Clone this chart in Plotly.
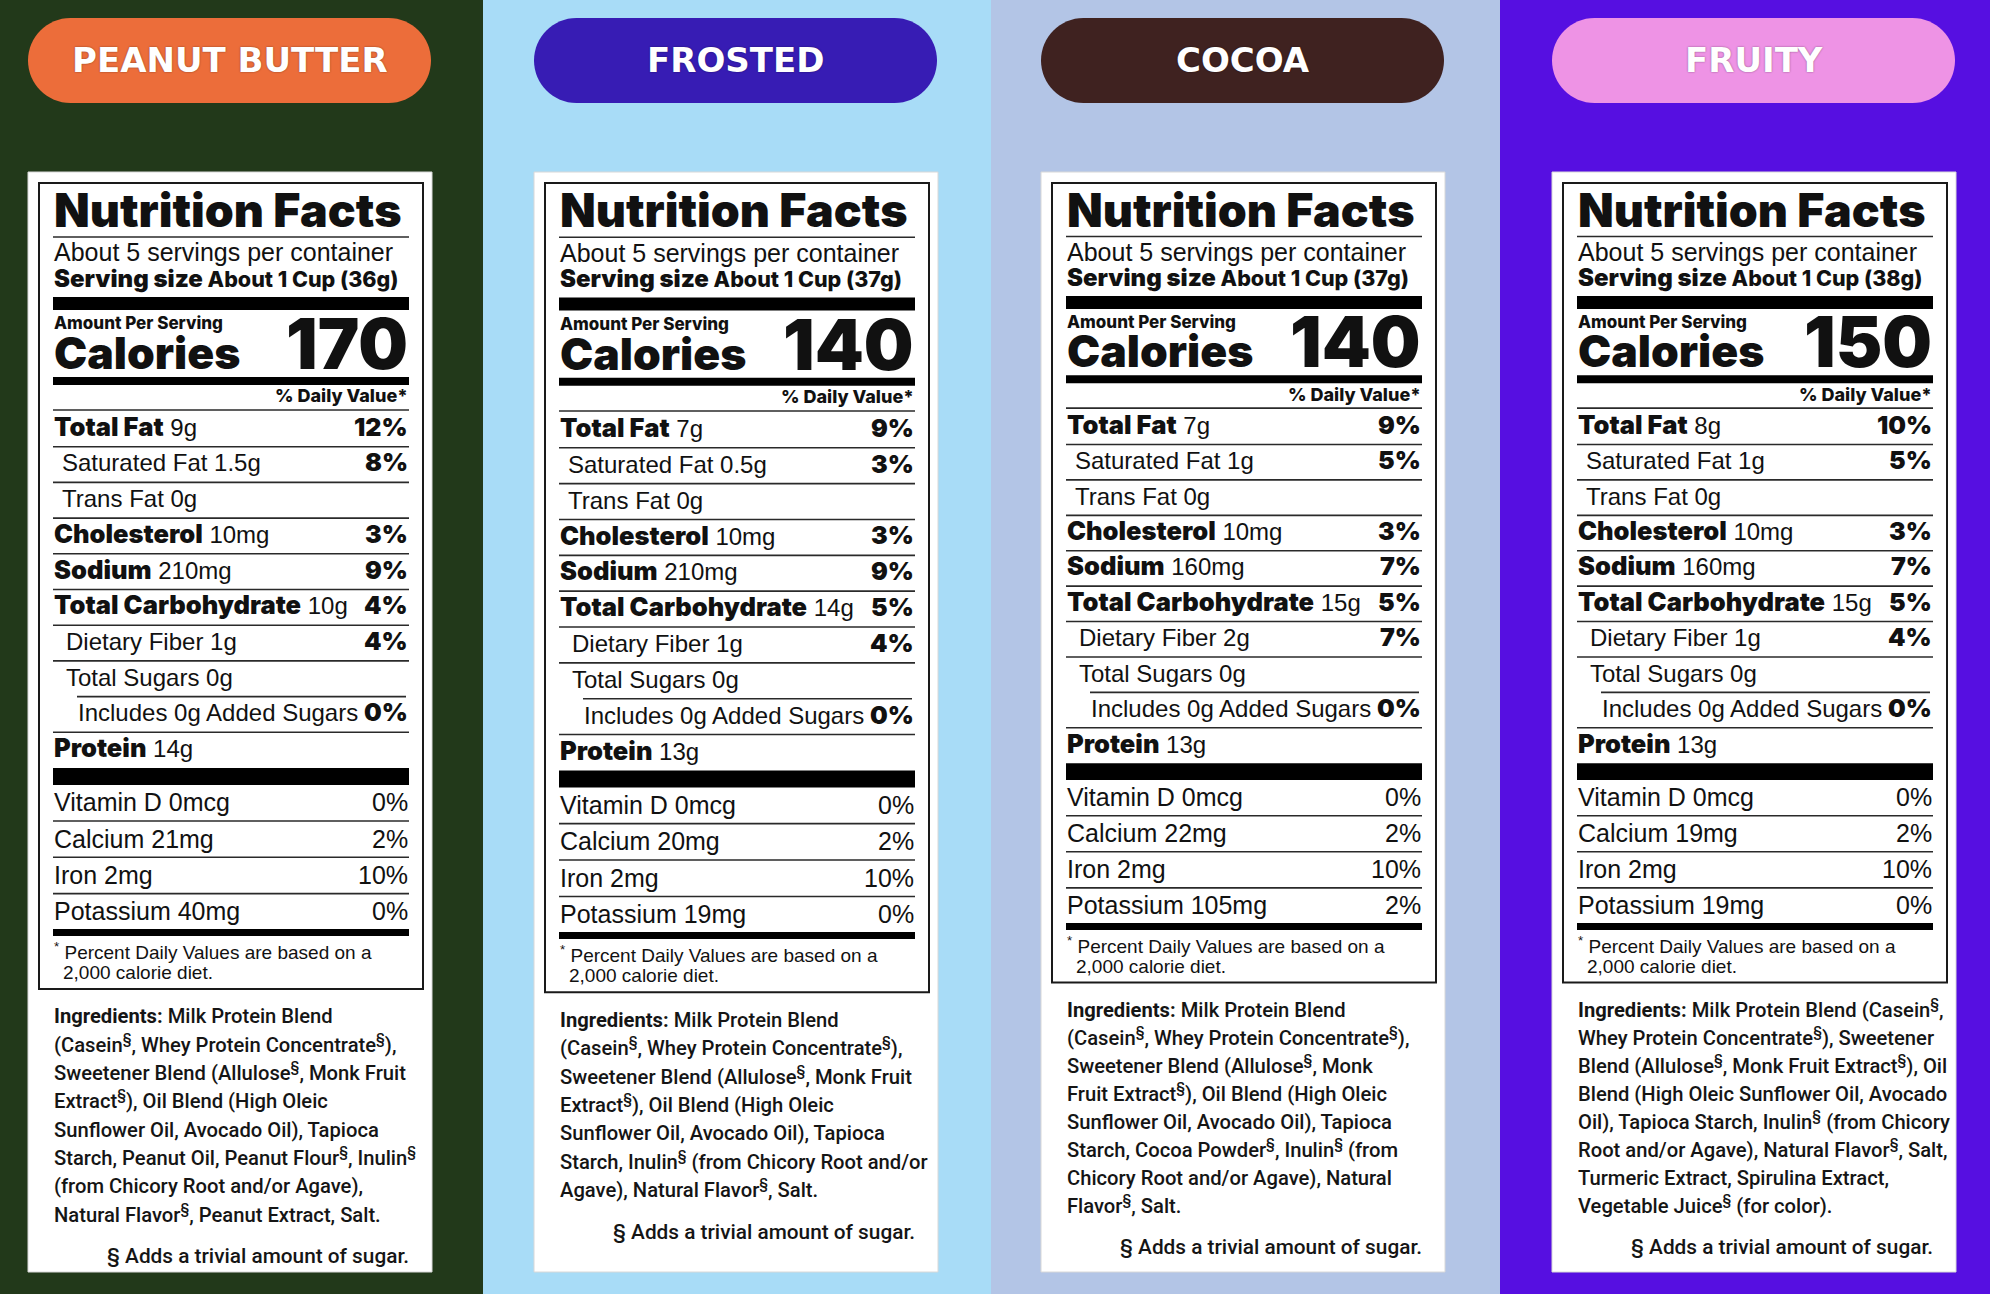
import plotly.graph_objects as go

# ---------------- data ----------------
flavors = ["PEANUT BUTTER", "FROSTED", "COCOA", "FRUITY"]
servings_text = ["About 5 servings per container"] * 4
serving_size = ["About 1 Cup (36g)", "About 1 Cup (37g)", "About 1 Cup (37g)", "About 1 Cup (38g)"]
calories = [170, 140, 140, 150]

total_fat = ["9g", "7g", "7g", "8g"]
total_fat_dv = ["12%", "9%", "9%", "10%"]
sat_fat = ["1.5g", "0.5g", "1g", "1g"]
sat_fat_dv = ["8%", "3%", "5%", "5%"]
trans_fat = ["0g", "0g", "0g", "0g"]
cholesterol = ["10mg", "10mg", "10mg", "10mg"]
cholesterol_dv = ["3%", "3%", "3%", "3%"]
sodium = ["210mg", "210mg", "160mg", "160mg"]
sodium_dv = ["9%", "9%", "7%", "7%"]
carbs = ["10g", "14g", "15g", "15g"]
carbs_dv = ["4%", "5%", "5%", "5%"]
fiber = ["1g", "1g", "2g", "1g"]
fiber_dv = ["4%", "4%", "7%", "4%"]
sugars = ["0g", "0g", "0g", "0g"]
added_sugars = ["0g", "0g", "0g", "0g"]
added_sugars_dv = ["0%", "0%", "0%", "0%"]
protein = ["14g", "13g", "13g", "13g"]

vitamin_d = ["0mcg", "0mcg", "0mcg", "0mcg"]
vitamin_d_dv = ["0%", "0%", "0%", "0%"]
calcium = ["21mg", "20mg", "22mg", "19mg"]
calcium_dv = ["2%", "2%", "2%", "2%"]
iron = ["2mg", "2mg", "2mg", "2mg"]
iron_dv = ["10%", "10%", "10%", "10%"]
potassium = ["40mg", "19mg", "105mg", "19mg"]
potassium_dv = ["0%", "0%", "2%", "0%"]

ingredients = [
    ["Milk Protein Blend",
     "(Casein§, Whey Protein Concentrate§),",
     "Sweetener Blend (Allulose§, Monk Fruit",
     "Extract§), Oil Blend (High Oleic",
     "Sunflower Oil, Avocado Oil), Tapioca",
     "Starch, Peanut Oil, Peanut Flour§, Inulin§",
     "(from Chicory Root and/or Agave),",
     "Natural Flavor§, Peanut Extract, Salt."],
    ["Milk Protein Blend",
     "(Casein§, Whey Protein Concentrate§),",
     "Sweetener Blend (Allulose§, Monk Fruit",
     "Extract§), Oil Blend (High Oleic",
     "Sunflower Oil, Avocado Oil), Tapioca",
     "Starch, Inulin§ (from Chicory Root and/or",
     "Agave), Natural Flavor§, Salt."],
    ["Milk Protein Blend",
     "(Casein§, Whey Protein Concentrate§),",
     "Sweetener Blend (Allulose§, Monk",
     "Fruit Extract§), Oil Blend (High Oleic",
     "Sunflower Oil, Avocado Oil), Tapioca",
     "Starch, Cocoa Powder§, Inulin§ (from",
     "Chicory Root and/or Agave), Natural",
     "Flavor§, Salt."],
    ["Milk Protein Blend (Casein§,",
     "Whey Protein Concentrate§), Sweetener",
     "Blend (Allulose§, Monk Fruit Extract§), Oil",
     "Blend (High Oleic Sunflower Oil, Avocado",
     "Oil), Tapioca Starch, Inulin§ (from Chicory",
     "Root and/or Agave), Natural Flavor§, Salt,",
     "Turmeric Extract, Spirulina Extract,",
     "Vegetable Juice§ (for color)."],
]
footnote_lines = ["Percent Daily Values are based on a", "2,000 calorie diet."]
sugar_note = "§ Adds a trivial amount of sugar."

# ---------------- styles / layout ----------------
panel_bg = ["#22391a", "#a8dcf7", "#b3c5e6", "#560fe1"]
pill_color = ["#ec6d3a", "#371cb4", "#3f2220", "#ee93e5"]
panel_edges = [0, 483, 991, 1500, 1990]
card_x = [28, 534, 1041, 1552]
v_scale = [1.0, 1.004, 0.992, 0.992]

W, H = 1990, 1294
HEAVY = "Inter"
REG = "Liberation Sans"
COND = "Roboto"
PILL = "DejaVu Sans"
INK = "#111111"

shapes = []
annotations = []


def rect(x0, y0, x1, y1, fill, line_color=None, lw=0):
    shapes.append(dict(type="rect", xref="x", yref="y", x0=x0, y0=y0, x1=x1, y1=y1,
                       fillcolor=fill, line=dict(width=lw, color=line_color or fill),
                       layer="below"))


def hline(x0, x1, y, w=1.6, color="#2a2a2a"):
    shapes.append(dict(type="line", xref="x", yref="y", x0=x0, x1=x1, y0=y, y1=y,
                       line=dict(color=color, width=w), layer="below"))


def pill(x0, y0, x1, y1, color):
    r = (y1 - y0) / 2
    k = 0.5523 * r
    p = (f"M {x0 + r},{y0} L {x1 - r},{y0} "
         f"C {x1 - r + k},{y0} {x1},{y0 + r - k} {x1},{y0 + r} "
         f"C {x1},{y0 + r + k} {x1 - r + k},{y1} {x1 - r},{y1} "
         f"L {x0 + r},{y1} "
         f"C {x0 + r - k},{y1} {x0},{y0 + r + k} {x0},{y0 + r} "
         f"C {x0},{y0 + r - k} {x0 + r - k},{y0} {x0 + r},{y0} Z")
    shapes.append(dict(type="path", xref="x", yref="y", path=p, fillcolor=color,
                       line=dict(width=0), layer="below"))


def text(x, base, s, size, fam, weight=400, anchor="left", color=INK, desc=0.24, shadow=None):
    font = dict(family=fam, size=size, color=color, weight=weight)
    if shadow:
        font["shadow"] = shadow
    annotations.append(dict(x=x, y=base + desc * size, xref="x", yref="y", text=s,
                            showarrow=False, xanchor=anchor, yanchor="bottom",
                            borderpad=0, font=font))


def heavy(s, size, weight=900):
    return f'<span style="font-family:{HEAVY};font-weight:{weight};font-size:{size}px">{s}</span>'


def sup(s):
    return s.replace("§", "<sup>§</sup>")


top_rows = [
    ("Total Fat", total_fat, total_fat_dv, True, 0),
    ("Saturated Fat", sat_fat, sat_fat_dv, False, 8),
    ("Trans Fat", trans_fat, None, False, 8),
    ("Cholesterol", cholesterol, cholesterol_dv, True, 0),
    ("Sodium", sodium, sodium_dv, True, 0),
    ("Total Carbohydrate", carbs, carbs_dv, True, 0),
    ("Dietary Fiber", fiber, fiber_dv, False, 12),
    ("Total Sugars", sugars, None, False, 12),
    ("Includes {} Added Sugars", added_sugars, added_sugars_dv, False, 24),
    ("Protein", protein, None, True, 0),
]
vit_rows = [
    ("Vitamin D", vitamin_d, vitamin_d_dv),
    ("Calcium", calcium, calcium_dv),
    ("Iron", iron, iron_dv),
    ("Potassium", potassium, potassium_dv),
]

# panel backgrounds
for i in range(4):
    rect(panel_edges[i], 0, panel_edges[i + 1], H, panel_bg[i])

for p in range(4):
    s = v_scale[p]

    def Y(y):
        return 172 + (y - 172) * s

    cx = card_x[p]
    x0 = cx + 25
    x1 = cx + 381
    # pill header
    pill(cx, 18, cx + 403, 103, pill_color[p])
    text(cx + 201.5, 73, flavors[p], 34, PILL, 700, "center", "#ffffff",
         desc=0.236, shadow="0px 0px 2px rgba(0,0,0,0.45)")
    # card + inner box
    rect(cx, 172, cx + 404, 1272, "#ffffff", "#d8d8d8", 1)
    rect(cx + 11, 183, cx + 395, Y(989), "rgba(0,0,0,0)", "#1a1a1a", 2)

    # header
    text(x0, Y(228), "Nutrition Facts", 46.5, HEAVY, 900, desc=0.242)
    hline(x0, x1, Y(237), 1.6)
    text(x0, Y(262), servings_text[p], 25, REG, 400, desc=0.212)
    text(x0, Y(288), heavy("Serving size", 24) + " " + heavy(serving_size[p], 21.5, 800),
         24, HEAVY, 900, desc=0.242)
    rect(x0, Y(297), x1, Y(310), "#000000")
    text(x0, Y(330), "Amount Per Serving", 17, HEAVY, 800, desc=0.242)
    text(x0, Y(370), "Calories", 44.5, HEAVY, 900, desc=0.242)
    text(x1, Y(370), str(calories[p]), 70, HEAVY, 900, "right", desc=0.242)
    rect(x0, Y(377), x1, Y(385), "#000000")
    text(x1, Y(403), "% Daily Value*", 18, HEAVY, 800, "right", desc=0.242)
    hline(x0, x1, Y(410), 1.6)

    # nutrient rows
    for r, (label, vals, dvs, bold, ind) in enumerate(top_rows):
        base = 436.7 + r * 35.7
        if "{}" in label:
            lab = label.format(vals[p])
        elif bold:
            lab = heavy(label, 25.5) + " " + vals[p]
        else:
            lab = f"{label} {vals[p]}"
        text(x0 + ind, Y(base), lab, 24, REG, 400, desc=0.26 if bold else 0.212)
        if dvs is not None:
            text(x1, Y(base), dvs[p], 25, HEAVY, 900, "right", desc=0.242)
        if r < len(top_rows) - 1:
            lx0 = x0 + 24 if r == 7 else x0
            lx1 = x1 - 3 if r == 7 else x1
            hline(lx0, lx1, Y(base + 10), 1.6)
    rect(x0, Y(768), x1, Y(785), "#000000")

    for r, (label, vals, dvs) in enumerate(vit_rows):
        base = 812 + r * 36.3
        text(x0, Y(base), f"{label} {vals[p]}", 25, REG, 400, desc=0.212)
        text(x1, Y(base), dvs[p], 25, REG, 400, "right", desc=0.212)
        if r < len(vit_rows) - 1:
            hline(x0, x1, Y(base + 9), 1.6)
    rect(x0, Y(929), x1, Y(936), "#000000")

    text(x0, Y(960), "<sup>*</sup> " + footnote_lines[0], 19, REG, 400, desc=0.212)
    text(x0 + 9, Y(980), footnote_lines[1], 19, REG, 400, desc=0.212)

    # ingredients
    lines = ingredients[p]
    for k, ln in enumerate(lines):
        base = 1024.5 + k * 28.3
        t = sup(ln)
        if k == 0:
            t = "<b>Ingredients:</b> " + t
        text(x0, Y(base), t, 20.2, COND, 500, desc=0.244, color="#151515")
    last = 1024.5 + (len(lines) - 1) * 28.3
    text(x1 + 1, Y(last + 41), sugar_note, 20.8, COND, 500, "right", desc=0.244, color="#151515")

fig = go.Figure(go.Scatter(x=[0], y=[0], mode="markers", marker=dict(opacity=0),
                           hoverinfo="skip", showlegend=False))
fig.update_layout(
    width=W, height=H, margin=dict(l=0, r=0, t=0, b=0),
    paper_bgcolor="#ffffff", plot_bgcolor="#ffffff",
    xaxis=dict(range=[0, W], visible=False, fixedrange=True),
    yaxis=dict(range=[H, 0], visible=False, fixedrange=True),
    shapes=shapes, annotations=annotations, showlegend=False,
)
fig.write_html("out.html", config={"displayModeBar": False, "staticPlot": True},
               post_script="document.body.style.margin='0';document.body.style.overflow='hidden';")
